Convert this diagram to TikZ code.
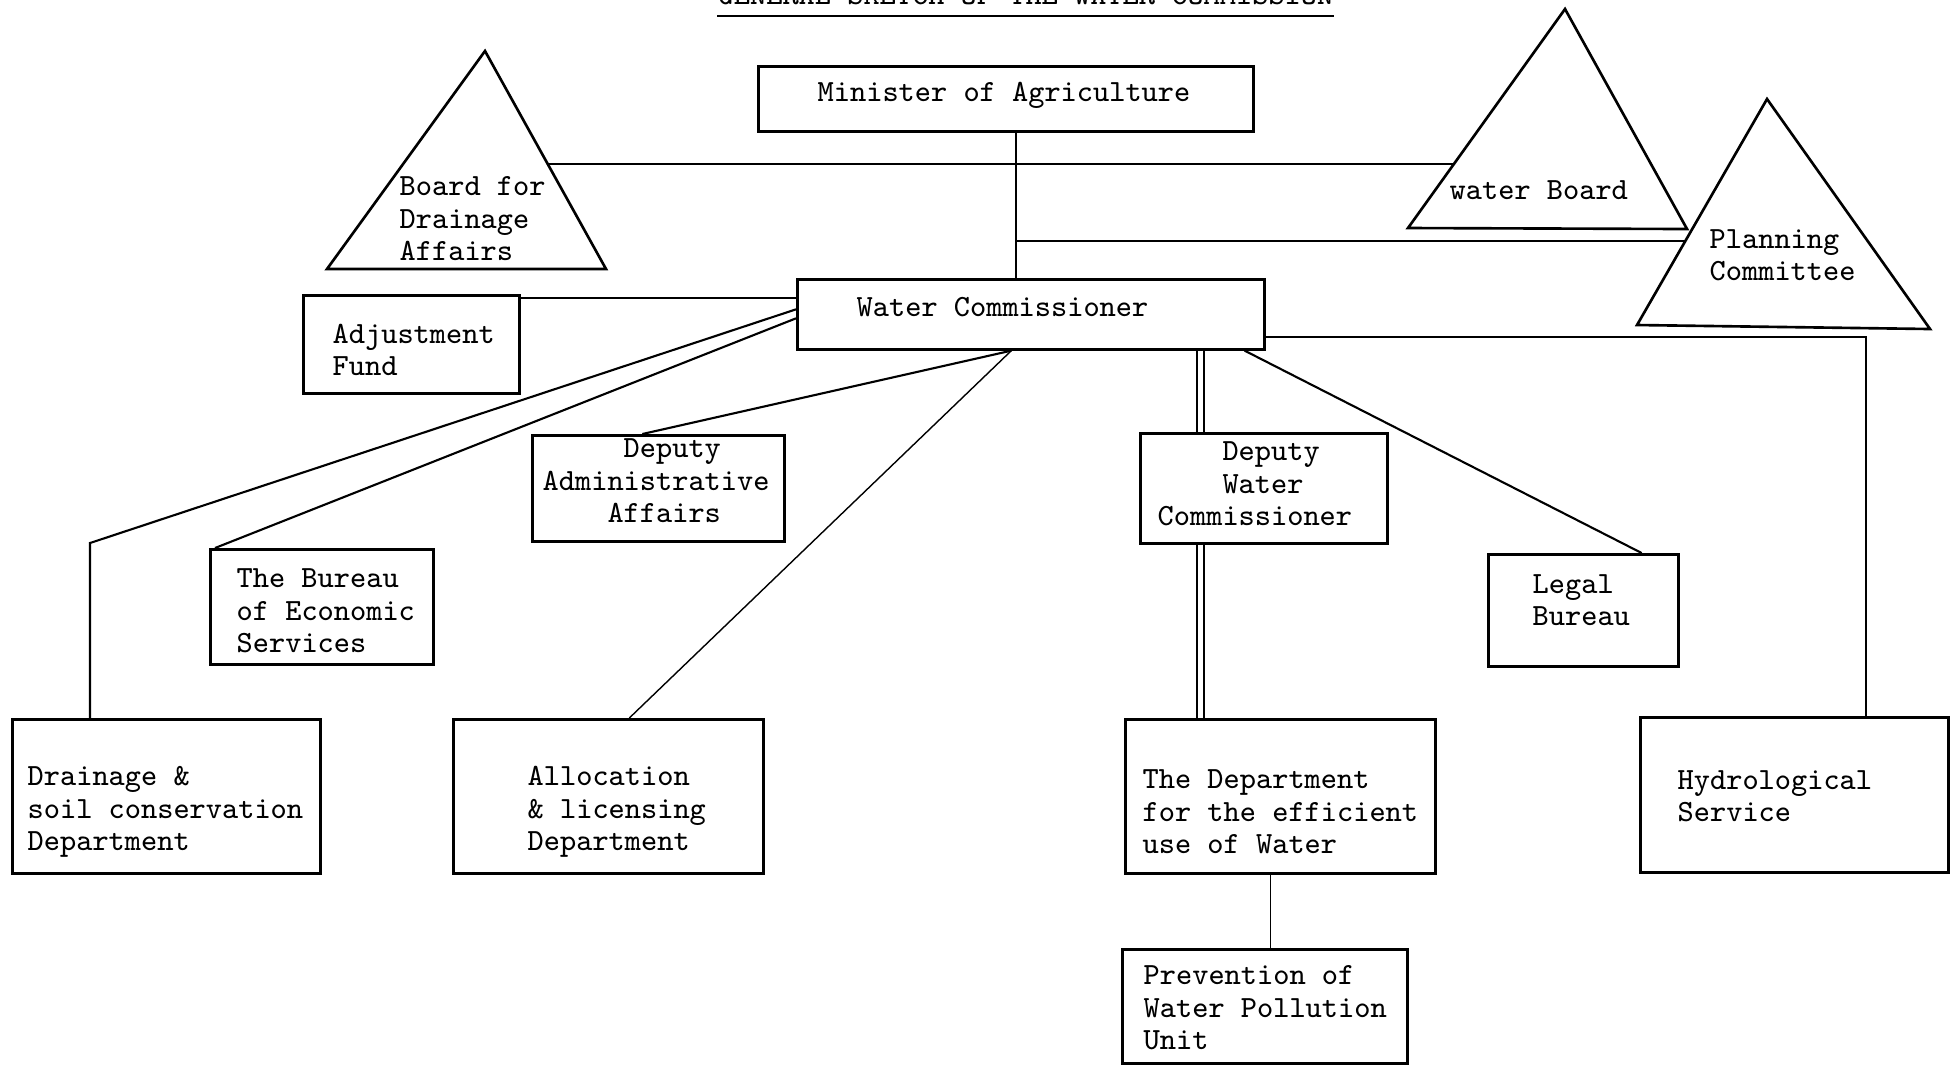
\documentclass[tikz,border=0pt]{standalone}
\usetikzlibrary{calc}
\begin{document}
\begin{tikzpicture}[
    x=0.1mm, y=-0.1mm,
    box/.style={draw, line width=0.75pt, inner sep=0pt, anchor=north west},
    sz/.style 2 args={minimum width=#1mm, minimum height=#2mm},
    lbl/.style={font=\fontsize{8.78}{9.25}\selectfont\ttfamily, align=left, inner sep=0pt, anchor=west},
    wire/.style={line width=0.6pt},
    faint/.style={line width=0.4pt},
    dbl/.style={double, line width=0.55pt, double distance=0.45mm},
    tri/.style={line width=0.75pt, line join=miter}
]
\fill[white] (0,0) rectangle (1959,1066);
\useasboundingbox (0,0) rectangle (1959,1066);

\node[lbl, anchor=base west] (title) at (717,4.5) {GENERAL SKETCH OF THE WATER COMMISSION};
\draw[wire] ([yshift=-1.15mm]title.base west) -- ([yshift=-1.15mm]title.base east);

% boxes
\node[box, sz={49.5}{6.5}] (minister) at (757,65) {};
\node[box, sz={46.7}{7.0}] (wc) at (796,278) {};
\node[box, sz={21.6}{9.8}] (adjust) at (302,294) {};
\node[box, sz={25.2}{10.6}] (depadm) at (531,434) {};
\node[box, sz={22.3}{11.5}] (bureau) at (209,548) {};
\node[box, sz={30.8}{15.4}] (drainage) at (11,718) {};
\node[box, sz={31.0}{15.4}] (alloc) at (452,718) {};
\node[box, sz={24.7}{11.0}] (depwc) at (1139,432) {};
\node[box, sz={19.0}{11.2}] (legal) at (1487,553) {};
\node[box, sz={31.0}{15.4}] (effic) at (1124,718) {};
\node[box, sz={30.8}{15.5}] (hydro) at (1639,716) {};
\node[box, sz={28.5}{11.4}] (prevent) at (1121,948) {};

\node[lbl] (ministerT) at (817,95) {Minister of Agriculture};
\node[lbl] (wcT) at (856,307) {Water Commissioner};
\node[lbl] (adjustT) at (332,350) {Adjustment\\Fund};
\node[lbl] (depadmT) at (542,481) {\hphantom{00000}Deputy\\Administrative\\\hphantom{0000}Affairs};
\node[lbl] (bureauT) at (236,611) {The Bureau\\of Economic\\Services};
\node[lbl] (drainageT) at (27,812) {Drainage \&\\soil conservation\\Department};
\node[lbl] (allocT) at (527,812) {Allocation\\\& licensing\\Department};
\node[lbl] (depwcT) at (1157,484) {\hphantom{0000}Deputy\\\hphantom{0000}Water\\Commissioner};
\node[lbl] (legalT) at (1532,600) {Legal\\Bureau};
\node[lbl] (efficT) at (1142,812) {The Department\\for the efficient\\use of Water};
\node[lbl] (hydroT) at (1677,796) {Hydrological\\Service};
\node[lbl] (preventT) at (1143,1008) {Prevention of\\Water Pollution\\Unit};

% triangles
\coordinate (bdT) at (485,51);
\coordinate (bdL) at (327,269);
\coordinate (bdR) at (606,269);
\coordinate (wbT) at (1565,9);
\coordinate (wbL) at (1408,228);
\coordinate (wbR) at (1687,229);
\coordinate (pcT) at (1767,99);
\coordinate (pcL) at (1637,325);
\coordinate (pcR) at (1930,329);
\draw[tri] (bdT) -- (bdL) -- (bdR) -- cycle;
\draw[tri] (wbT) -- (wbL) -- (wbR) -- cycle;
\draw[tri] (pcT) -- (pcL) -- (pcR) -- cycle;

\node[lbl] (bdText) at (399,219) {Board for\\Drainage\\Affairs};
\node[lbl] (wbText) at (1449,190) {water Board};
\node[lbl] (pcText) at (1709,255) {Planning\\Committee};

% connectors
\coordinate (spine) at (1016,0);
\coordinate (hub) at ([xshift=-1.95mm]wc.south);
\coordinate (dbl) at (1200.5,0);
\coordinate (bend) at (90,543);
\coordinate (bdE) at ($(bdT)!0.5175!(bdR)$);
\coordinate (wbE) at ($(wbT)!0.71!(wbL)$);
\coordinate (pcE) at ($(pcT)!0.629!(pcL)$);

\draw[wire] (spine |- minister.south) -- (spine |- wc.north);
\draw[wire] (bdE) -- (bdE -| wbE);
\draw[wire] (spine |- pcE) -- (pcE);
\draw[wire] ([yshift=-0.4mm]adjust.north east) -- ([yshift=-0.4mm]adjust.north east -| wc.west);
\draw[wire] ([yshift=0.5mm]wc.west) -- (bend) -- (bend |- drainage.north);
\draw[wire] ([yshift=-0.4mm]wc.west) -- ([xshift=0.6mm]bureau.north west);
\draw[wire] (hub) -- ([xshift=-1.6mm]depadm.north);
\draw[faint] (hub) -- ([xshift=2.1mm]alloc.north);
\draw[dbl] (dbl |- wc.south) -- (dbl |- depwc.north);
\draw[dbl] (dbl |- depwc.south) -- (dbl |- effic.north);
\draw[wire] ([xshift=-2.1mm]wc.south east) -- ([xshift=-3.8mm]legal.north east);
\draw[wire] ([yshift=-2.3mm]wc.east) -| ([xshift=7.2mm]hydro.north);
\draw[faint] ([xshift=-1mm]effic.south) -- ([xshift=-1mm]effic.south |- prevent.north);
\end{tikzpicture}
\end{document}
